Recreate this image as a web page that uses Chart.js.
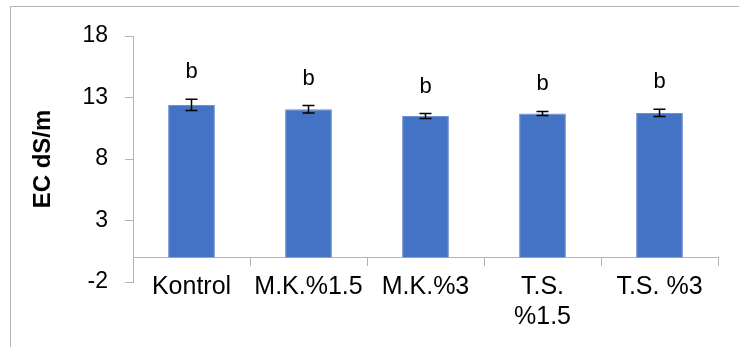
<!DOCTYPE html>
<html>
<head>
<meta charset="utf-8">
<script src="https://cdn.jsdelivr.net/npm/chart.js@4.4.1/dist/chart.umd.min.js"></script>
<style>
    html, body { margin: 0; padding: 0; background: #fff; overflow: hidden; }
    #wrap { position: relative; width: 739px; height: 347px; }
    #frame { position: absolute; left: 10px; top: 6px; width: 800px; height: 400px; border: 1px solid #b4b4b4; }
    canvas { position: absolute; left: 0; top: 0; }
</style>
</head>
<body>
<div id="wrap">
    <div id="frame"></div>
    <canvas id="ecChart" width="739" height="347"></canvas>
</div>
<script>
// Datos del gráfico
const categorias = ['Kontrol', 'M.K.%1.5', 'M.K.%3', ['T.S.', '%1.5'], 'T.S. %3'];
const valoresEC = [12.4, 12.05, 11.5, 11.7, 11.75];
const erroresEC = [0.45, 0.3, 0.2, 0.17, 0.3];
const letras = ['b', 'b', 'b', 'b', 'b'];
const ticksY = [-2, 3, 8, 13, 18];

// Barras de error + letras encima
const errorBarsPlugin = {
    id: 'errorBars',
    afterDatasetsDraw(chart) {
        const ctx = chart.ctx;
        const y = chart.scales.y;
        const meta = chart.getDatasetMeta(0);
        ctx.save();
        ctx.strokeStyle = '#000';
        ctx.lineWidth = 1.5;
        meta.data.forEach((bar, i) => {
            const top = y.getPixelForValue(valoresEC[i] + erroresEC[i]);
            const bottom = y.getPixelForValue(valoresEC[i] - erroresEC[i]);
            ctx.beginPath();
            ctx.moveTo(bar.x, top);
            ctx.lineTo(bar.x, bottom);
            ctx.moveTo(bar.x - 6, top);
            ctx.lineTo(bar.x + 6, top);
            ctx.moveTo(bar.x - 6, bottom);
            ctx.lineTo(bar.x + 6, bottom);
            ctx.stroke();

            ctx.fillStyle = '#000';
            ctx.font = '22px "Liberation Sans", Arial, sans-serif';
            ctx.textAlign = 'center';
            ctx.textBaseline = 'middle';
            ctx.fillText(letras[i], bar.x, top - 27);
        });
        ctx.restore();
    }
};

const ctx = document.getElementById('ecChart').getContext('2d');
const ecChart = new Chart(ctx, {
    type: 'bar',
    data: {
        labels: categorias,
        datasets: [{
            data: valoresEC,
            backgroundColor: '#4472C4',
            borderColor: '#6b90d4',
            borderWidth: 1,
            barPercentage: 0.4,
            categoryPercentage: 1.0
        }]
    },
    options: {
        responsive: false,
        animation: false,
        layout: {
            padding: { left: 20, right: 21, top: 36, bottom: 65 }
        },
        scales: {
            x: {
                position: { y: 0 },
                grid: {
                    offset: true,
                    drawOnChartArea: false,
                    drawTicks: true,
                    tickLength: 8,
                    color: '#b4b4b4'
                },
                border: { color: '#b4b4b4', width: 1 },
                ticks: {
                    color: '#000',
                    padding: 7,
                    maxRotation: 0,
                    autoSkip: false,
                    font: { family: '"Liberation Sans", Arial, sans-serif', size: 25, lineHeight: 1.2 }
                }
            },
            y: {
                min: -2,
                max: 18,
                afterBuildTicks: (scale) => {
                    scale.ticks = ticksY.map(v => ({ value: v }));
                },
                afterFit: (scale) => {
                    scale.width = 113;
                },
                grid: {
                    drawOnChartArea: false,
                    drawTicks: true,
                    tickLength: 8,
                    color: '#b4b4b4'
                },
                border: { color: '#b4b4b4', width: 1 },
                ticks: {
                    color: '#000',
                    padding: 17,
                    font: { family: '"Liberation Sans", Arial, sans-serif', size: 23 }
                },
                title: {
                    display: true,
                    text: 'EC dS/m',
                    color: '#000',
                    padding: { top: 9, bottom: 0 },
                    font: { family: '"Liberation Sans", Arial, sans-serif', size: 24, weight: 'bold' }
                }
            }
        },
        plugins: {
            legend: { display: false },
            tooltip: { enabled: false }
        }
    },
    plugins: [errorBarsPlugin]
});
</script>
</body>
</html>
